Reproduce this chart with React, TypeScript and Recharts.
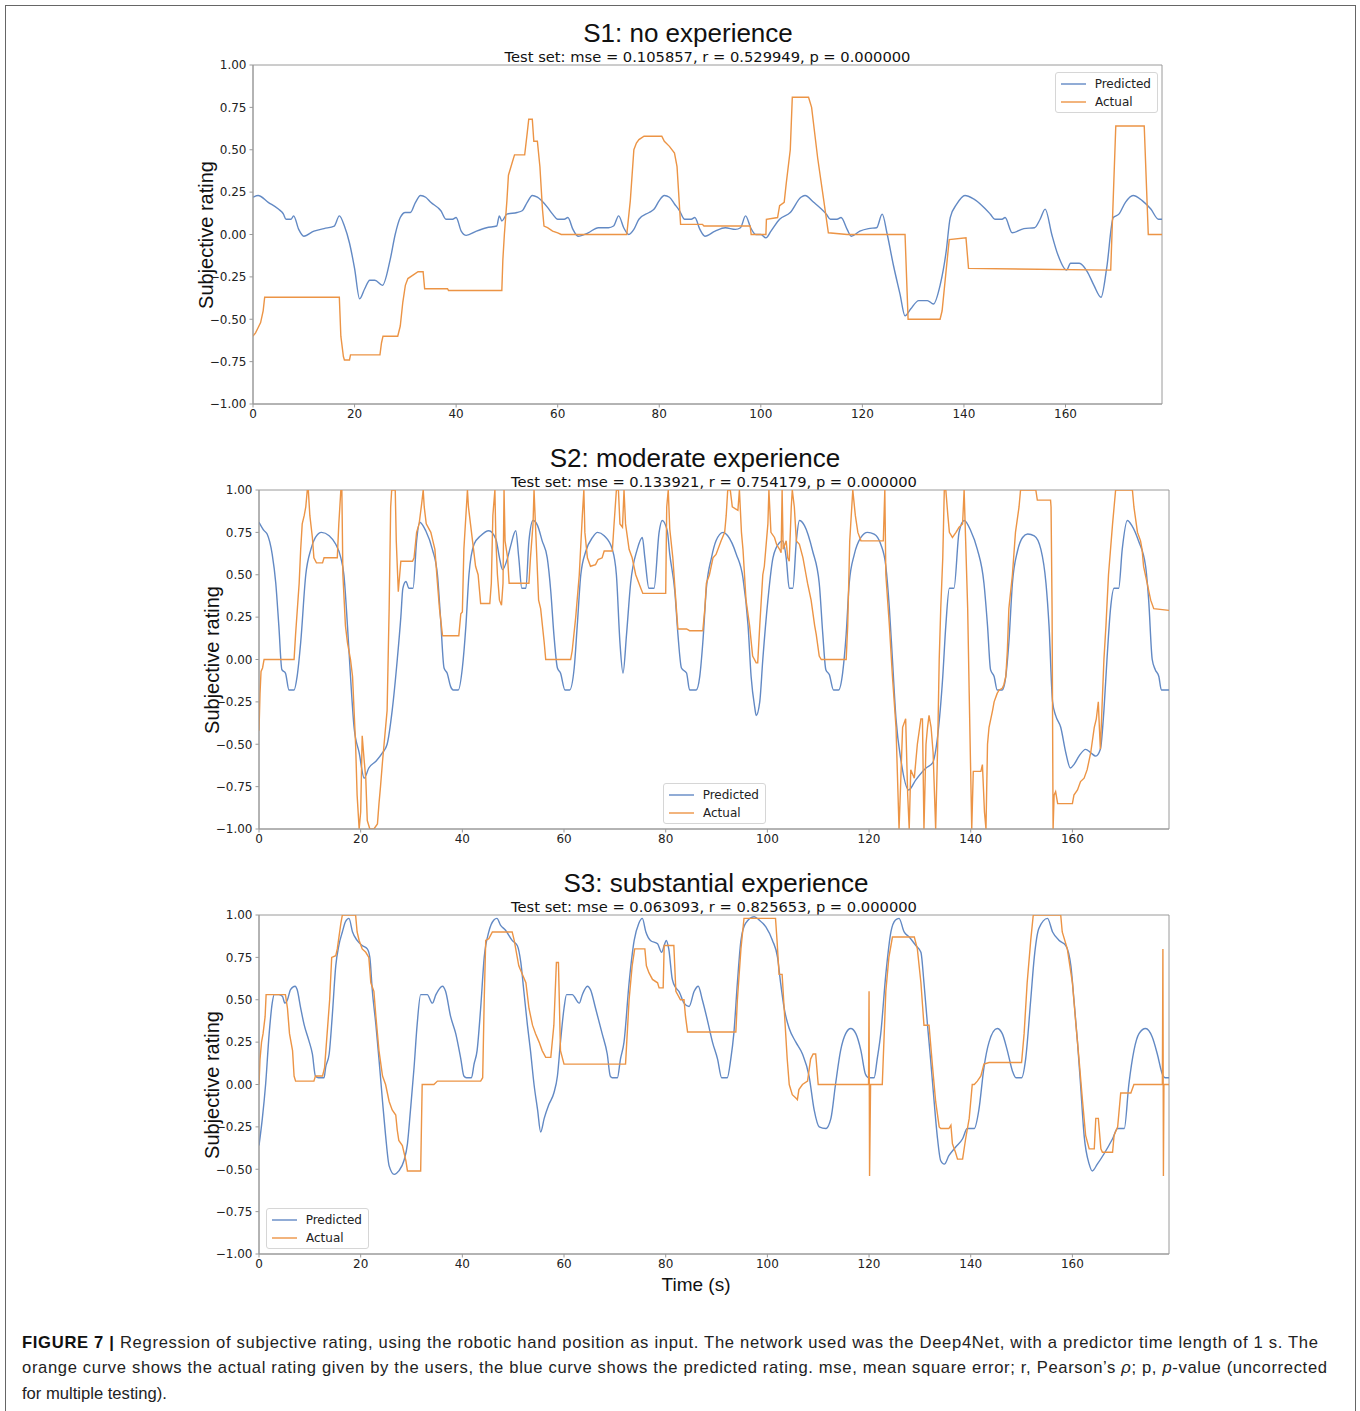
import { LineChart, Line, XAxis, YAxis, ReferenceArea } from 'recharts'

const X_TICKS = [0, 20, 40, 60, 80, 100, 120, 140, 160]
const Y_TICKS = [-1, -0.75, -0.5, -0.25, 0, 0.25, 0.5, 0.75, 1]
const T_MAX = 179

// [time (s), rating]
const s1Predicted: [number, number][] = [
  [0, 0.22], [1, 0.23], [3, 0.19], [5, 0.15], [6, 0.12], [6.5, 0.09], [7.5, 0.09], [8, 0.11], [9, 0.03], [10, -0.01],
  [12, 0.02], [14, 0.035], [16, 0.05], [17, 0.11], [18, 0.05], [19, -0.05], [20, -0.2], [21, -0.38], [22, -0.32],
  [23, -0.27], [24, -0.27], [25.5, -0.3], [27, -0.15], [28, 0], [29, 0.1], [30, 0.13], [31, 0.13], [32, 0.19],
  [33, 0.23], [34, 0.22], [35, 0.19], [37, 0.14], [38, 0.09], [39.3, 0.09], [40, 0.1], [41, 0.02], [42, -0.005],
  [44, 0.02], [46, 0.04], [48, 0.05], [48.5, 0.11], [49, 0.08], [50, 0.12], [52, 0.13], [53, 0.14], [54, 0.19],
  [55, 0.23], [56, 0.22], [58, 0.16], [59, 0.12], [60, 0.09], [61.3, 0.09], [62, 0.1], [63, 0.03], [64, -0.01],
  [66, 0.01], [68, 0.04], [70, 0.04], [71, 0.05], [72, 0.11], [73, 0.04], [74, 0], [75, 0.03], [76, 0.09],
  [78, 0.13], [79, 0.15], [80, 0.2], [81, 0.23], [82, 0.22], [83, 0.18], [84, 0.14], [85, 0.09], [86.3, 0.09],
  [87, 0.1], [88, 0.03], [89, -0.01], [91, 0.02], [93, 0.04], [95, 0.03], [96, 0.04], [97, 0.11], [98, 0.04],
  [99, 0], [100, 0], [101, -0.02], [102, 0.02], [103.7, 0.09], [105.8, 0.13], [107.9, 0.22], [108.7, 0.23],
  [110.4, 0.19], [112.9, 0.12], [113.7, 0.09], [115, 0.09], [115.8, 0.1], [117, 0.03], [117.8, -0.01],
  [119.5, 0.02], [121.2, 0.035], [122.8, 0.04], [123.9, 0.12], [124.9, 0], [126.1, -0.18], [127.4, -0.35],
  [128.4, -0.48], [129.5, -0.44], [131.1, -0.39], [132.8, -0.39], [134, -0.41], [135.3, -0.3], [136.5, -0.1],
  [137.3, 0.1], [138.6, 0.18], [140.2, 0.23], [141.9, 0.21], [145.2, 0.12], [146.1, 0.09], [147.5, 0.09],
  [148.1, 0.1], [149.5, 0.01], [151.8, 0.035], [153.9, 0.04], [155, 0.09], [156, 0.15], [157.3, 0],
  [158.5, -0.12], [160.2, -0.21], [161, -0.17], [162.7, -0.17], [164.3, -0.22], [165.6, -0.3], [167, -0.37],
  [168.1, -0.2], [169.4, 0.1], [170.5, 0.12], [171.8, 0.19], [173.3, 0.23], [175.1, 0.2], [176.8, 0.15],
  [178.3, 0.09], [179, 0.09],
]

const s1Actual: [number, number][] = [
  [0, -0.6], [0.5, -0.58], [1, -0.55], [1.5, -0.52], [2, -0.45], [2.3, -0.37], [17, -0.37], [17.3, -0.6],
  [17.8, -0.72], [18, -0.74], [19, -0.74], [19.2, -0.71], [25, -0.71], [25.3, -0.64], [25.6, -0.6], [28.5, -0.6],
  [29, -0.54], [29.5, -0.4], [30, -0.3], [30.5, -0.26], [31.5, -0.24], [32.5, -0.22], [33.5, -0.22],
  [33.8, -0.32], [38.3, -0.32], [38.5, -0.33], [49, -0.33], [49.2, -0.15], [49.5, 0], [50, 0.2], [50.3, 0.35],
  [51, 0.42], [51.5, 0.47], [53.5, 0.47], [54, 0.6], [54.3, 0.68], [55, 0.68], [55.3, 0.55], [56, 0.55],
  [56.5, 0.4], [57, 0.15], [57.3, 0.05], [58, 0.04], [59, 0.02], [60, 0.01], [60.7, 0], [73.6, 0], [74.3, 0.2],
  [75, 0.5], [75.5, 0.54], [76, 0.56], [77, 0.58], [80.5, 0.58], [81, 0.55], [82, 0.52], [83, 0.48], [83.5, 0.4],
  [84.2, 0.06], [88.5, 0.06], [88.8, 0.05], [97.9, 0.05], [98.1, 0], [101, 0], [101.1, 0.09], [103.3, 0.1],
  [103.7, 0.17], [104.6, 0.19], [105, 0.3], [105.8, 0.5], [106.2, 0.81], [109.4, 0.81], [110, 0.75],
  [111.2, 0.45], [112.4, 0.2], [113.3, 0.01], [117, 0], [128.4, 0], [129, -0.5], [135.3, -0.5], [135.7, -0.45],
  [137.1, -0.03], [140.4, -0.02], [140.9, -0.2], [168.9, -0.21], [169.9, 0.64], [175.5, 0.64], [176.3, 0],
  [179, 0],
]

const s2Predicted: [number, number][] = [
  [0, 0.81], [1, 0.76], [1.6, 0.74], [2.6, 0.62], [3.3, 0.45], [3.9, 0.2], [4.5, -0.06], [5.2, -0.08],
  [5.9, -0.18], [6.9, -0.18], [7.5, -0.1], [8.2, 0.1], [9.2, 0.5], [10.2, 0.65], [11.1, 0.72], [12.3, 0.75],
  [13.8, 0.73], [15.1, 0.68], [16.1, 0.6], [16.7, 0.5], [17.4, 0.2], [18, -0.1], [18.7, -0.4], [19.7, -0.55],
  [20.7, -0.7], [21.6, -0.64], [23, -0.6], [24.3, -0.55], [25.2, -0.5], [26.2, -0.3], [27.2, 0], [27.9, 0.25],
  [28.3, 0.42], [28.9, 0.46], [29.5, 0.42], [30.3, 0.42], [31, 0.7], [31.6, 0.81], [32.8, 0.76], [34.1, 0.65],
  [35.1, 0.5], [35.7, 0.25], [36.4, -0.05], [37, -0.08], [37.7, -0.16], [38.2, -0.18], [39.2, -0.18],
  [40, -0.05], [40.7, 0.2], [41.3, 0.5], [42.3, 0.68], [43.6, 0.73], [45.2, 0.76], [46.6, 0.71], [47.3, 0.6],
  [47.9, 0.53], [48.9, 0.6], [49.5, 0.67], [50.5, 0.76], [51.1, 0.6], [51.7, 0.42], [52.5, 0.42], [53.1, 0.7],
  [53.9, 0.82], [54.8, 0.79], [55.7, 0.7], [56.7, 0.6], [57.4, 0.4], [58, 0.15], [58.7, -0.05], [59.3, -0.08],
  [60.2, -0.18], [61.1, -0.18], [62, -0.05], [62.6, 0.2], [63.3, 0.5], [64.3, 0.64], [65.6, 0.72], [66.6, 0.75],
  [67.9, 0.73], [69.5, 0.65], [70.3, 0.5], [71, 0.1], [71.6, -0.08], [72.3, 0.15], [73.1, 0.45], [74.4, 0.65],
  [75.4, 0.72], [75.9, 0.6], [76.7, 0.42], [77.7, 0.42], [78.7, 0.75], [79.3, 0.82], [80.3, 0.76], [80.8, 0.62],
  [81.8, 0.4], [82.4, 0.15], [83.1, -0.05], [84.1, -0.08], [84.7, -0.18], [86, -0.18], [86.7, -0.1], [87.3, 0.1],
  [88, 0.42], [89, 0.6], [89.9, 0.7], [91.3, 0.75], [92.2, 0.73], [93.9, 0.62], [95.2, 0.48], [96.2, 0.2],
  [96.8, -0.1], [97.5, -0.28], [97.8, -0.33], [98.5, -0.25], [99.1, 0], [100.1, 0.35], [101.1, 0.6],
  [102.4, 0.69], [103, 0.7], [103.7, 0.6], [104.3, 0.42], [105, 0.42], [105.7, 0.7], [106.3, 0.82],
  [107.3, 0.79], [108.9, 0.64], [110.2, 0.45], [110.9, 0.15], [111.5, -0.06], [112.2, -0.09], [113, -0.18],
  [114, -0.18], [114.8, -0.08], [115.5, 0.15], [116.1, 0.45], [117.1, 0.62], [118.4, 0.72], [119.7, 0.75],
  [121, 0.74], [122.3, 0.68], [123.3, 0.55], [124, 0.3], [124.6, 0], [125.3, -0.35], [126.3, -0.6],
  [127.8, -0.77], [129.2, -0.71], [131.2, -0.64], [132.5, -0.61], [133.5, -0.45], [134.5, -0.1], [135.1, 0.2],
  [135.8, 0.42], [136.7, 0.42], [137.7, 0.75], [138.7, 0.82], [140, 0.76], [141.3, 0.65], [142.6, 0.45],
  [143.3, 0.2], [143.9, -0.06], [144.6, -0.1], [145.2, -0.18], [146.2, -0.18], [146.9, -0.1], [147.5, 0.1],
  [148.2, 0.45], [149.2, 0.64], [150.2, 0.72], [151.2, 0.74], [152.5, 0.73], [153.8, 0.65], [154.8, 0.45],
  [155.4, 0.2], [156.1, -0.25], [156.7, -0.33], [157.7, -0.4], [158.7, -0.55], [159.6, -0.64], [160.3, -0.62],
  [161.3, -0.57], [162.6, -0.53], [163.6, -0.55], [164.6, -0.57], [165.5, -0.53], [166.2, -0.3], [166.8, 0],
  [167.5, 0.3], [168.2, 0.42], [169.1, 0.42], [169.8, 0.65], [170.8, 0.82], [171.7, 0.79], [173, 0.7],
  [174.4, 0.55], [175, 0.35], [175.7, 0], [176.3, -0.06], [177, -0.1], [177.5, -0.18], [179, -0.18],
]

const s2Actual: [number, number][] = [
  [0, -0.42], [0.2, -0.2], [0.4, -0.07], [0.7, -0.05], [1, 0], [6.9, 0], [7.2, 0.15], [7.9, 0.45], [8.2, 0.65],
  [8.5, 0.8], [8.9, 0.85], [9.2, 0.9], [9.5, 1], [9.7, 1], [10, 0.85], [10.5, 0.72], [10.8, 0.6], [11.3, 0.57],
  [12.5, 0.57], [12.8, 0.6], [15.4, 0.6], [15.7, 0.8], [16.1, 1], [16.3, 1], [16.5, 0.5], [17, 0.2], [17.4, 0.1],
  [18, 0], [18.4, -0.1], [19, -0.5], [19.3, -0.8], [19.7, -1], [20, -0.9], [20.3, -0.45], [20.7, -0.6],
  [21, -0.7], [21.3, -0.95], [21.8, -1], [22.6, -1], [23.3, -0.97], [23.6, -0.85], [23.9, -0.75], [24.3, -0.6],
  [25.2, -0.3], [25.6, 0.3], [25.9, 0.9], [26.1, 1], [26.8, 1], [27, 0.7], [27.4, 0.4], [27.9, 0.58],
  [30.2, 0.58], [30.5, 0.6], [31, 0.75], [31.5, 0.8], [32, 0.92], [32.3, 1], [32.5, 0.9], [32.9, 0.8],
  [33.8, 0.75], [34.2, 0.7], [34.6, 0.65], [35.1, 0.45], [35.5, 0.3], [36.1, 0.14], [39.3, 0.14], [39.7, 0.27],
  [40, 0.28], [40.3, 0.65], [41, 1], [41.2, 0.9], [41.6, 0.8], [42, 0.7], [42.6, 0.55], [43.1, 0.5], [43.6, 0.33],
  [45.4, 0.33], [45.7, 0.45], [46, 0.85], [46.4, 1], [46.6, 0.7], [46.9, 0.5], [47.3, 0.35], [47.7, 0.32],
  [48, 0.45], [48.2, 1], [48.4, 0.7], [48.9, 0.6], [49.2, 0.45], [53.1, 0.45], [53.4, 0.6], [53.9, 0.8],
  [54.1, 1], [54.4, 0.78], [55, 0.35], [55.4, 0.3], [56.1, 0.1], [56.4, 0], [61.3, 0], [61.6, 0.05],
  [62.3, 0.25], [63, 0.5], [63.6, 0.85], [63.9, 1], [64.1, 0.75], [64.6, 0.6], [65.2, 0.55], [66.2, 0.56],
  [66.7, 0.59], [67.5, 0.6], [67.9, 0.64], [69.5, 0.64], [69.8, 0.78], [70.3, 1], [70.7, 1], [71, 0.8],
  [71.5, 0.78], [71.8, 1], [72.1, 0.8], [72.8, 0.65], [73.4, 0.6], [74.1, 0.5], [75.1, 0.42], [75.5, 0.39],
  [80, 0.39], [80.2, 0.9], [80.5, 1], [80.8, 0.77], [81.4, 0.6], [82.1, 0.3], [82.4, 0.18], [84.1, 0.18],
  [84.7, 0.17], [87.3, 0.17], [87.7, 0.3], [88, 0.45], [88.6, 0.5], [89.3, 0.6], [89.9, 0.62], [90.9, 0.7],
  [91.6, 0.75], [91.9, 0.85], [92.2, 1], [92.7, 1], [93.1, 0.9], [94.2, 0.88], [94.5, 1], [94.9, 0.75],
  [95.2, 0.65], [95.8, 0.35], [96.5, 0.2], [97.1, 0.02], [97.8, -0.02], [98.1, -0.02], [98.5, 0.2], [99.1, 0.5],
  [99.4, 0.55], [100.1, 0.8], [100.3, 1], [100.7, 0.75], [101.4, 0.72], [101.8, 0.68], [102.4, 0.65],
  [102.7, 0.63], [102.9, 1], [103.1, 0.65], [103.7, 0.7], [104, 0.6], [104.3, 0.58], [104.7, 0.9], [104.9, 1],
  [105.3, 0.9], [105.7, 0.7], [106.3, 0.68], [107, 0.6], [107.6, 0.5], [107.9, 0.45], [108.6, 0.35],
  [109.3, 0.2], [109.6, 0.15], [110.2, 0.02], [110.6, 0], [115.5, 0], [115.8, 0.2], [116.2, 0.7], [116.8, 1],
  [117.3, 0.85], [117.8, 0.75], [118.4, 0.7], [122.8, 0.7], [123.1, 1], [123.3, 0.5], [124, 0.2], [124.6, -0.1],
  [125.3, -0.4], [125.9, -1], [126.6, -0.4], [127.2, -0.35], [127.6, -0.8], [127.9, -1], [128.2, -0.65],
  [128.9, -0.7], [129.5, -0.5], [130.2, -0.35], [130.5, -0.35], [130.8, -1], [131.2, -0.5], [131.5, -0.4],
  [131.8, -0.33], [132.2, -0.4], [132.6, -0.55], [133.1, -1], [133.5, -0.5], [133.8, 0], [134.1, 0.3],
  [134.5, 0.6], [134.8, 1], [135.1, 1], [135.5, 0.85], [135.8, 0.75], [136.4, 0.72], [137.1, 0.75],
  [137.7, 0.78], [138.4, 0.8], [138.7, 1], [139, 0.7], [139.4, 0.3], [139.7, -0.2], [140.2, -1], [140.5, -0.66],
  [142, -0.66], [142.3, -0.62], [142.7, -0.9], [143, -1], [143.3, -0.5], [143.6, -0.4], [144.3, -0.3],
  [144.6, -0.25], [145.2, -0.2], [145.6, -0.18], [146.2, -0.17], [146.5, -0.15], [146.9, -0.1], [147.2, 0.05],
  [147.5, 0.3], [148.2, 0.5], [148.8, 0.75], [149.5, 0.9], [149.8, 1], [152.8, 1], [153.1, 0.94], [155.7, 0.94],
  [155.8, 0.9], [156, 0.3], [156.2, -1], [156.4, -0.8], [156.7, -0.78], [157.1, -0.85], [160, -0.85],
  [160.3, -0.8], [161, -0.77], [161.6, -0.72], [162.3, -0.7], [162.9, -0.65], [163.6, -0.55], [164.3, -0.4],
  [164.7, -0.35], [165.1, -0.25], [165.3, -0.4], [165.5, -0.53], [165.8, -0.3], [166.2, 0], [166.6, 0.2],
  [167.1, 0.5], [167.9, 0.8], [168.5, 1], [171.8, 1], [172.1, 0.9], [172.8, 0.75], [173.4, 0.7], [173.7, 0.65],
  [174, 0.55], [174.7, 0.45], [175.4, 0.35], [176, 0.3], [179, 0.29],
]

const s3Predicted: [number, number][] = [
  [0, -0.36], [0.66, -0.2], [1.3, 0], [2, 0.3], [2.6, 0.48], [3, 0.53], [3.9, 0.53], [4.6, 0.52], [5.1, 0.48],
  [5.6, 0.5], [6.2, 0.56], [7.1, 0.58], [7.5, 0.56], [8.2, 0.45], [8.9, 0.35], [9.8, 0.26], [10.5, 0.18],
  [11.1, 0.05], [11.7, 0.04], [12.8, 0.04], [13.1, 0.1], [13.8, 0.18], [14.4, 0.4], [15.1, 0.7], [15.7, 0.82],
  [16.4, 0.9], [17, 0.96], [17.7, 0.98], [18.4, 0.9], [19.3, 0.85], [20.3, 0.82], [21.3, 0.8], [21.8, 0.75],
  [22.3, 0.55], [23, 0.35], [23.6, 0.15], [24.3, -0.1], [24.9, -0.3], [25.6, -0.48], [26.6, -0.53],
  [27.5, -0.51], [28.5, -0.45], [29.2, -0.35], [29.8, -0.15], [30.5, 0.1], [31.1, 0.35], [31.8, 0.53],
  [33.1, 0.53], [34.1, 0.48], [34.8, 0.53], [36.1, 0.58], [36.7, 0.55], [37.7, 0.4], [38.7, 0.3], [39.7, 0.15],
  [40.3, 0.05], [40.8, 0.04], [41.8, 0.04], [42.3, 0.12], [42.9, 0.2], [43.6, 0.45], [44.3, 0.75], [45.2, 0.9],
  [46.2, 0.97], [46.8, 0.98], [47.5, 0.94], [48.5, 0.91], [49.8, 0.85], [50.8, 0.82], [51.5, 0.72],
  [52.1, 0.55], [52.8, 0.35], [53.4, 0.2], [54.1, 0], [54.8, -0.15], [55.4, -0.28], [56.1, -0.2], [57, -0.12],
  [58, -0.05], [58.7, 0.05], [59.3, 0.25], [60, 0.45], [60.5, 0.53], [61.6, 0.53], [63, 0.48], [63.6, 0.53],
  [64.6, 0.58], [65.2, 0.56], [66.2, 0.45], [67.5, 0.3], [68.5, 0.18], [69.1, 0.05], [69.5, 0.04], [70.5, 0.04],
  [71.1, 0.15], [71.8, 0.25], [72.8, 0.6], [73.8, 0.85], [74.7, 0.95], [75.4, 0.98], [76.1, 0.9], [77, 0.85],
  [78.4, 0.83], [79.2, 0.78], [79.7, 0.82], [80.1, 0.85], [80.6, 0.8], [81.3, 0.62], [82, 0.57], [82.6, 0.55],
  [83.6, 0.48], [84.6, 0.46], [85.6, 0.55], [86.4, 0.58], [87.2, 0.5], [88.2, 0.38], [89.2, 0.25], [90.2, 0.15],
  [91, 0.04], [92.1, 0.04], [92.8, 0.15], [93.4, 0.3], [94.1, 0.6], [94.8, 0.85], [95.7, 0.95], [97.4, 0.99],
  [98.4, 0.97], [99.7, 0.93], [101, 0.85], [102, 0.75], [102.6, 0.6], [103.3, 0.45], [104.3, 0.33],
  [105.6, 0.25], [106.9, 0.18], [108.2, 0.05], [109.2, -0.15], [110.2, -0.25], [111.5, -0.26], [112.5, -0.2],
  [113.4, 0], [114.4, 0.2], [115.4, 0.3], [116.4, 0.33], [117.4, 0.3], [118.4, 0.2], [119.3, 0.06],
  [119.9, 0.04], [121, 0.04], [121.6, 0.15], [122.3, 0.3], [123.3, 0.65], [124.3, 0.9], [125.2, 0.97],
  [125.9, 0.98], [126.9, 0.9], [127.9, 0.87], [129.2, 0.82], [130.2, 0.78], [130.8, 0.6], [131.5, 0.35],
  [132.1, 0.15], [132.8, -0.1], [133.4, -0.3], [134.1, -0.45], [134.8, -0.47], [135.7, -0.42], [137, -0.37],
  [138.4, -0.32], [139.3, -0.26], [140.7, -0.26], [141.6, -0.15], [142.6, 0.1], [143.6, 0.25], [145.2, 0.33],
  [146.2, 0.3], [147.2, 0.2], [148.2, 0.08], [148.9, 0.04], [150, 0.04], [150.8, 0.15], [151.8, 0.5],
  [152.5, 0.75], [153.4, 0.92], [155.1, 0.98], [156.1, 0.9], [157.4, 0.85], [158.7, 0.82], [159.7, 0.7],
  [160.3, 0.5], [161, 0.25], [161.6, 0], [162.3, -0.3], [163.3, -0.47], [163.9, -0.51], [164.9, -0.47],
  [166.2, -0.41], [167.9, -0.32], [168.9, -0.26], [170.2, -0.26], [171.1, 0], [172.1, 0.2], [173.1, 0.3],
  [174.4, 0.33], [175.7, 0.28], [176.7, 0.18], [177.7, 0.06], [178.2, 0.04], [179, 0.04],
]

const s3Actual: [number, number][] = [
  [0, 0], [0.2, 0.15], [0.5, 0.25], [0.8, 0.3], [1.2, 0.4], [1.4, 0.53], [5.2, 0.53], [5.6, 0.45], [6, 0.3],
  [6.6, 0.2], [6.9, 0.05], [7.2, 0.02], [10.8, 0.02], [11.1, 0.05], [12.5, 0.05], [12.9, 0.1], [13.4, 0.3],
  [13.9, 0.5], [14.3, 0.75], [15.1, 0.76], [15.4, 0.8], [16.1, 0.95], [16.4, 1], [19, 1], [19.3, 0.9],
  [19.7, 0.85], [20.3, 0.8], [21, 0.78], [21.6, 0.75], [22, 0.6], [22.6, 0.55], [23, 0.4], [23.6, 0.2],
  [24.3, 0.05], [24.9, 0], [25.6, -0.1], [26.2, -0.15], [26.9, -0.18], [27.2, -0.27], [27.5, -0.33],
  [28.2, -0.36], [28.9, -0.45], [29.2, -0.51], [31.8, -0.51], [32.1, 0], [34.4, 0], [35.1, 0.02], [43.6, 0.02],
  [44, 0.04], [44.3, 0.5], [44.6, 0.85], [45.2, 0.86], [45.9, 0.9], [49.8, 0.9], [50.2, 0.85], [50.8, 0.75],
  [51.1, 0.7], [51.8, 0.65], [52.5, 0.6], [53.1, 0.45], [53.8, 0.35], [54.4, 0.3], [55.1, 0.25], [55.7, 0.2],
  [56.4, 0.16], [57.4, 0.16], [58, 0.35], [58.5, 0.72], [58.9, 0.72], [59.3, 0.2], [60, 0.12], [72.1, 0.12],
  [72.8, 0.5], [73.4, 0.7], [73.9, 0.8], [75.9, 0.8], [76.2, 0.7], [76.7, 0.66], [77.4, 0.62], [78.4, 0.6],
  [78.7, 0.57], [79.5, 0.57], [79.7, 0.82], [81.6, 0.82], [82, 0.55], [82.9, 0.5], [83.6, 0.5], [83.9, 0.4],
  [84.3, 0.31], [93.8, 0.31], [94.1, 0.5], [94.8, 0.8], [95.4, 0.98], [101.6, 0.98], [101.9, 0.85],
  [102.3, 0.65], [102.9, 0.65], [103.3, 0.45], [103.9, 0.15], [104.3, 0], [104.9, -0.06], [105.6, -0.08],
  [105.9, -0.09], [106.2, -0.03], [106.9, 0], [107.9, 0.02], [108.5, 0.15], [109, 0.18], [109.5, 0.18],
  [110, 0], [119.9, 0], [120, 0.55], [120.1, -0.54], [120.3, 0], [122.6, 0], [123.3, 0.55], [123.9, 0.75],
  [124.6, 0.87], [128.9, 0.87], [129.5, 0.8], [130.2, 0.6], [130.8, 0.35], [131.8, 0.35], [132.5, 0.1],
  [133.1, -0.1], [133.8, -0.25], [134.1, -0.26], [135.7, -0.26], [136.1, -0.24], [136.4, -0.35], [137, -0.4],
  [137.4, -0.44], [138.4, -0.44], [139, -0.32], [139.7, -0.2], [140.3, 0], [140.7, 0], [141.3, 0.02],
  [142, 0.05], [142.6, 0.12], [143.6, 0.13], [150, 0.13], [150.5, 0.3], [151.1, 0.6], [151.8, 0.85],
  [152.3, 1], [157.7, 1], [158, 0.9], [159, 0.8], [160, 0.6], [160.7, 0.35], [161.3, 0.15], [162, -0.1],
  [162.6, -0.3], [163.3, -0.38], [164.3, -0.38], [164.6, -0.2], [165.1, -0.2], [165.6, -0.38], [165.9, -0.4],
  [167.9, -0.4], [168.2, -0.3], [168.9, -0.25], [169.5, -0.05], [171.5, -0.05], [172.1, 0], [177.7, 0],
  [177.8, 0.8], [177.9, -0.54], [178, 0], [179, 0],
]

const BLUE = '#6289c4'
const ORANGE = '#ec9445'
const SPINE = '#9a9a9a'
const SANS = '"Liberation Sans", Arial, sans-serif'
const DEJAVU = '"DejaVu Sans", sans-serif'

const toPoints = (rows: [number, number][]) => rows.map(([t, v]) => ({ t, v }))

const fmtY = (v: number) => (v < 0 ? '\u2212' : '') + Math.abs(v).toFixed(2)

type PanelProps = {
  title: string
  subtitle: string
  titleX: number
  predicted: [number, number][]
  actual: [number, number][]
  plotLeft: number
  plotRight: number
  plotTop: number
  legend: { left: number; top: number }
}

const PLOT_H = 339
const Y_AXIS_W = 60

function Legend({ left, top }: { left: number; top: number }) {
  const item = (color: string, label: string) => (
    <div style={{ display: 'flex', alignItems: 'center', height: 18 }}>
      <svg width={25} height={4} style={{ marginRight: 9 }}>
        <line x1={0} x2={25} y1={2} y2={2} stroke={color} strokeWidth={1.4} />
      </svg>
      <span style={{ fontFamily: DEJAVU, fontSize: 12, color: '#222' }}>{label}</span>
    </div>
  )
  return (
    <div
      style={{
        position: 'absolute',
        left,
        top,
        width: 90,
        padding: '2px 6px 1px 5px',
        border: '1px solid #d6d6d6',
        borderRadius: 3,
        background: 'rgba(255,255,255,0.85)',
      }}
    >
      {item(BLUE, 'Predicted')}
      {item(ORANGE, 'Actual')}
    </div>
  )
}

function Panel(p: PanelProps) {
  const chartTop = p.plotTop - 10
  return (
    <>
      <div
        style={{
          position: 'absolute',
          left: p.titleX,
          top: p.plotTop - 32,
          transform: 'translate(-50%, -50%)',
          fontFamily: SANS,
          fontSize: 26,
          lineHeight: 1,
          whiteSpace: 'nowrap',
          color: '#111',
        }}
      >
        {p.title}
      </div>
      <div
        style={{
          position: 'absolute',
          left: (p.plotLeft + p.plotRight) / 2,
          top: p.plotTop - 8,
          transform: 'translate(-50%, -50%)',
          fontFamily: DEJAVU,
          fontSize: 14.7,
          lineHeight: 1,
          whiteSpace: 'nowrap',
          color: '#111',
        }}
      >
        {p.subtitle}
      </div>
      <div
        style={{
          position: 'absolute',
          left: p.plotLeft - 47,
          top: p.plotTop + PLOT_H / 2,
          transform: 'translate(-50%, -50%) rotate(-90deg)',
          fontFamily: SANS,
          fontSize: 20,
          lineHeight: 1,
          whiteSpace: 'nowrap',
          color: '#111',
        }}
      >
        Subjective rating
      </div>
      <div style={{ position: 'absolute', left: 0, top: chartTop }}>
        <LineChart
          width={1360}
          height={PLOT_H + 10 + 30}
          margin={{ top: 10, bottom: 0, left: p.plotLeft - Y_AXIS_W, right: 1360 - p.plotRight }}
        >
          <XAxis
            dataKey="t"
            type="number"
            domain={[0, T_MAX]}
            ticks={X_TICKS}
            allowDataOverflow
            height={30}
            stroke={SPINE}
            tickSize={3.5}
            tickMargin={2}
            tick={{ fill: '#222', fontSize: 12, fontFamily: DEJAVU }}
          />
          <YAxis
            dataKey="v"
            type="number"
            domain={[-1, 1]}
            ticks={Y_TICKS}
            allowDataOverflow
            width={Y_AXIS_W}
            stroke={SPINE}
            tickSize={3.5}
            tickMargin={3}
            tickFormatter={fmtY}
            tick={{ fill: '#222', fontSize: 12, fontFamily: DEJAVU }}
          />
          <ReferenceArea x1={0} x2={T_MAX} y1={-1} y2={1} fill="none" stroke={SPINE} strokeWidth={1} />
          <Line
            data={toPoints(p.predicted)}
            dataKey="v"
            type="monotone"
            stroke={BLUE}
            strokeWidth={1.4}
            dot={false}
            activeDot={false}
            isAnimationActive={false}
          />
          <Line
            data={toPoints(p.actual)}
            dataKey="v"
            type="linear"
            stroke={ORANGE}
            strokeWidth={1.4}
            dot={false}
            activeDot={false}
            isAnimationActive={false}
          />
        </LineChart>
      </div>
      <Legend left={p.legend.left} top={p.legend.top} />
    </>
  )
}

export default function App() {
  return (
    <div style={{ position: 'absolute', left: 0, top: 0, width: 1360, height: 1411, background: '#fff', overflow: 'hidden' }}>
      <div
        style={{
          position: 'absolute',
          left: 5,
          top: 5,
          width: 1349,
          height: 1430,
          border: '1.5px solid #666',
        }}
      />
      <Panel
        title="S1: no experience"
        subtitle="Test set: mse = 0.105857, r = 0.529949, p = 0.000000"
        titleX={688}
        predicted={s1Predicted}
        actual={s1Actual}
        plotLeft={253}
        plotRight={1162}
        plotTop={65}
        legend={{ left: 1055, top: 72 }}
      />
      <Panel
        title="S2: moderate experience"
        subtitle="Test set: mse = 0.133921, r = 0.754179, p = 0.000000"
        titleX={695}
        predicted={s2Predicted}
        actual={s2Actual}
        plotLeft={259}
        plotRight={1169}
        plotTop={490}
        legend={{ left: 663, top: 783 }}
      />
      <Panel
        title="S3: substantial experience"
        subtitle="Test set: mse = 0.063093, r = 0.825653, p = 0.000000"
        titleX={716}
        predicted={s3Predicted}
        actual={s3Actual}
        plotLeft={259}
        plotRight={1169}
        plotTop={915}
        legend={{ left: 266, top: 1208 }}
      />
      <div
        style={{
          position: 'absolute',
          left: 696,
          top: 1284,
          transform: 'translate(-50%, -50%)',
          fontFamily: SANS,
          fontSize: 19,
          lineHeight: 1,
          color: '#111',
        }}
      >
        Time (s)
      </div>
      <svg style={{ position: 'absolute', left: 0, top: 1320 }} width={1360} height={91}>
        <g fontFamily={SANS} fontSize={16.6} fill="#222">
          <text x={22} y={28} textLength={1296} lengthAdjust="spacing">
            <tspan fontWeight="bold" fill="#111">FIGURE 7 | </tspan>
            Regression of subjective rating, using the robotic hand position as input. The network used was the
            Deep4Net, with a predictor time length of 1 s. The
          </text>
          <text x={22} y={53} textLength={1305} lengthAdjust="spacing">
            orange curve shows the actual rating given by the users, the blue curve shows the predicted rating. mse,
            mean square error; r, Pearson’s <tspan fontStyle="italic">ρ</tspan>; p, <tspan fontStyle="italic">p</tspan>
            -value (uncorrected
          </text>
          <text x={22} y={79}>
            for multiple testing).
          </text>
        </g>
      </svg>
    </div>
  )
}
